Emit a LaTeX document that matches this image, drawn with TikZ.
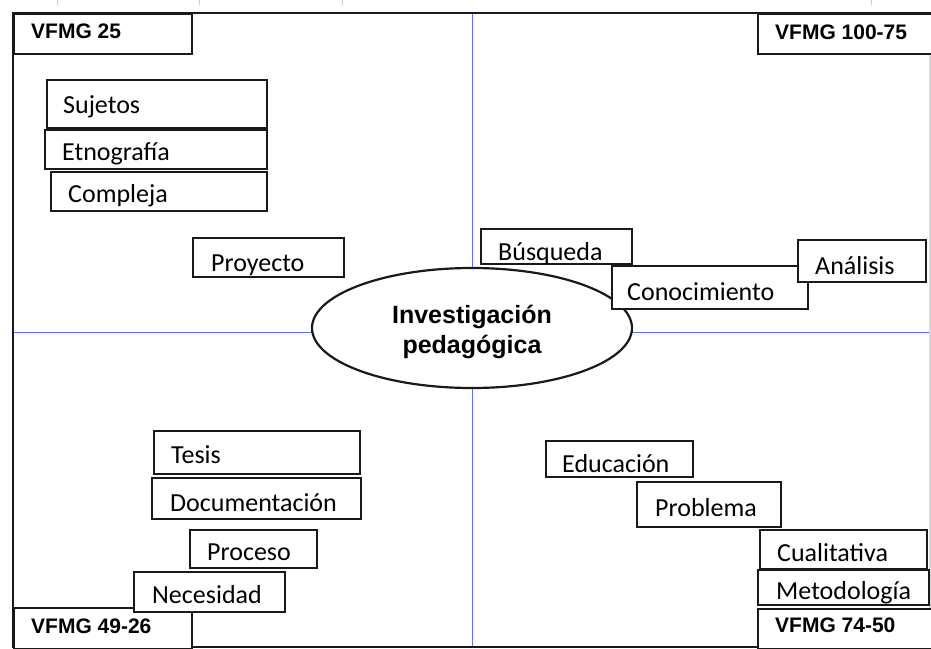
\documentclass[tikz,border=0pt]{standalone}
\usepackage{fontspec}
\usetikzlibrary{shapes.geometric}
\newfontfamily\wordfont{Carlito}
\newfontfamily\headfont{Liberation Sans}
\definecolor{axisblue}{RGB}{95,115,225}
\definecolor{boxline}{RGB}{25,25,25}

\begin{document}
\begin{tikzpicture}[x=1pt, y=-1pt,
    wbox/.style={draw=boxline, line width=1.6pt, fill=white, inner sep=0pt, anchor=north west},
    word/.style={inner sep=0pt, anchor=base west, font=\wordfont\fontsize{26}{30}\selectfont},
    head/.style={inner sep=0pt, anchor=base west, font=\headfont\bfseries\fontsize{21}{25}\selectfont}]
    \useasboundingbox (0, 0) rectangle (931, 648);

    % ruler ticks
    \foreach \x in {57, 199, 342, 871} {
        \draw[black!20, line width=0.8pt] (\x, 0) -- (\x, 5);
    }

    % frame and axes
    \draw[black!15, line width=1.5pt] (930, 13) -- (930, 647);
    \draw[boxline, line width=1.6pt] (13, 647) -- (930, 647);
    \draw[boxline, line width=2.6pt] (13, 648) -- (13, 13) -- (931, 13);
    \draw[axisblue, line width=1pt] (472, 14) -- (472, 646);
    \draw[axisblue, line width=1pt] (14, 332) -- (929, 332);

    % corner labels
    \foreach \nm/\x/\y/\w/\h/\dx/\dy/\t in {c25/13/13/178/40/18/25/VFMG 25,
        c100/757/13/174/40/18/26/VFMG 100-75,
        c49/13/607/178/41/18/26/VFMG 49-26,
        c74/757/608/174/40/18/24/VFMG 74-50} {
        \node[wbox, minimum width={\w pt}, minimum height={\h pt}] (\nm) at (\x, \y) {};
        \node[head] (\nm-t) at ([shift={(\dx, \dy)}]\nm.north west) {\t};
    }

    \node[draw=boxline, line width=2.2pt, fill=white, ellipse, minimum width=320pt, minimum height=120pt] (inv) at (472, 328) {};
    \node[align=center, inner sep=0pt, font=\headfont\bfseries\fontsize{25}{30}\selectfont] (inv-t)
        at ([yshift=-4pt]inv.center) {Investigación\\pedagógica};

    % word boxes
    \foreach \nm/\x/\y/\w/\h/\dx/\dy/\t in {suj/46/79/220/48/17/34/Sujetos,
        etno/44/129/222/39/18/31/Etnografía,
        comp/50/171/216/39/18/31/Compleja,
        proy/192/237/151/39/19/34/Proyecto,
        busq/480/228/151/35/18/32/Búsqueda,
        cono/611/265/196/43/16/35/Conocimiento,
        anal/797/239/128/42/18/35/Análisis,
        tesis/153/430/206/43/18/33/Tesis,
        docu/151/477/209/41/19/34/Documentación,
        proc/189/529/127/38/18/31/Proceso,
        nece/133/571/151/40/19/32/Necesidad,
        educ/545/440/147/36/17/32/Educación,
        prob/636/481/144/45/19/35/Problema,
        cual/759/529/167/39/18/32/Cualitativa,
        meto/757/569/171/35/19/30/Metodología} {
        \node[wbox, minimum width={\w pt}, minimum height={\h pt}] (\nm) at (\x, \y) {};
        \node[word] (\nm-t) at ([shift={(\dx, \dy)}]\nm.north west) {\t};
    }
\end{tikzpicture}
\end{document}
